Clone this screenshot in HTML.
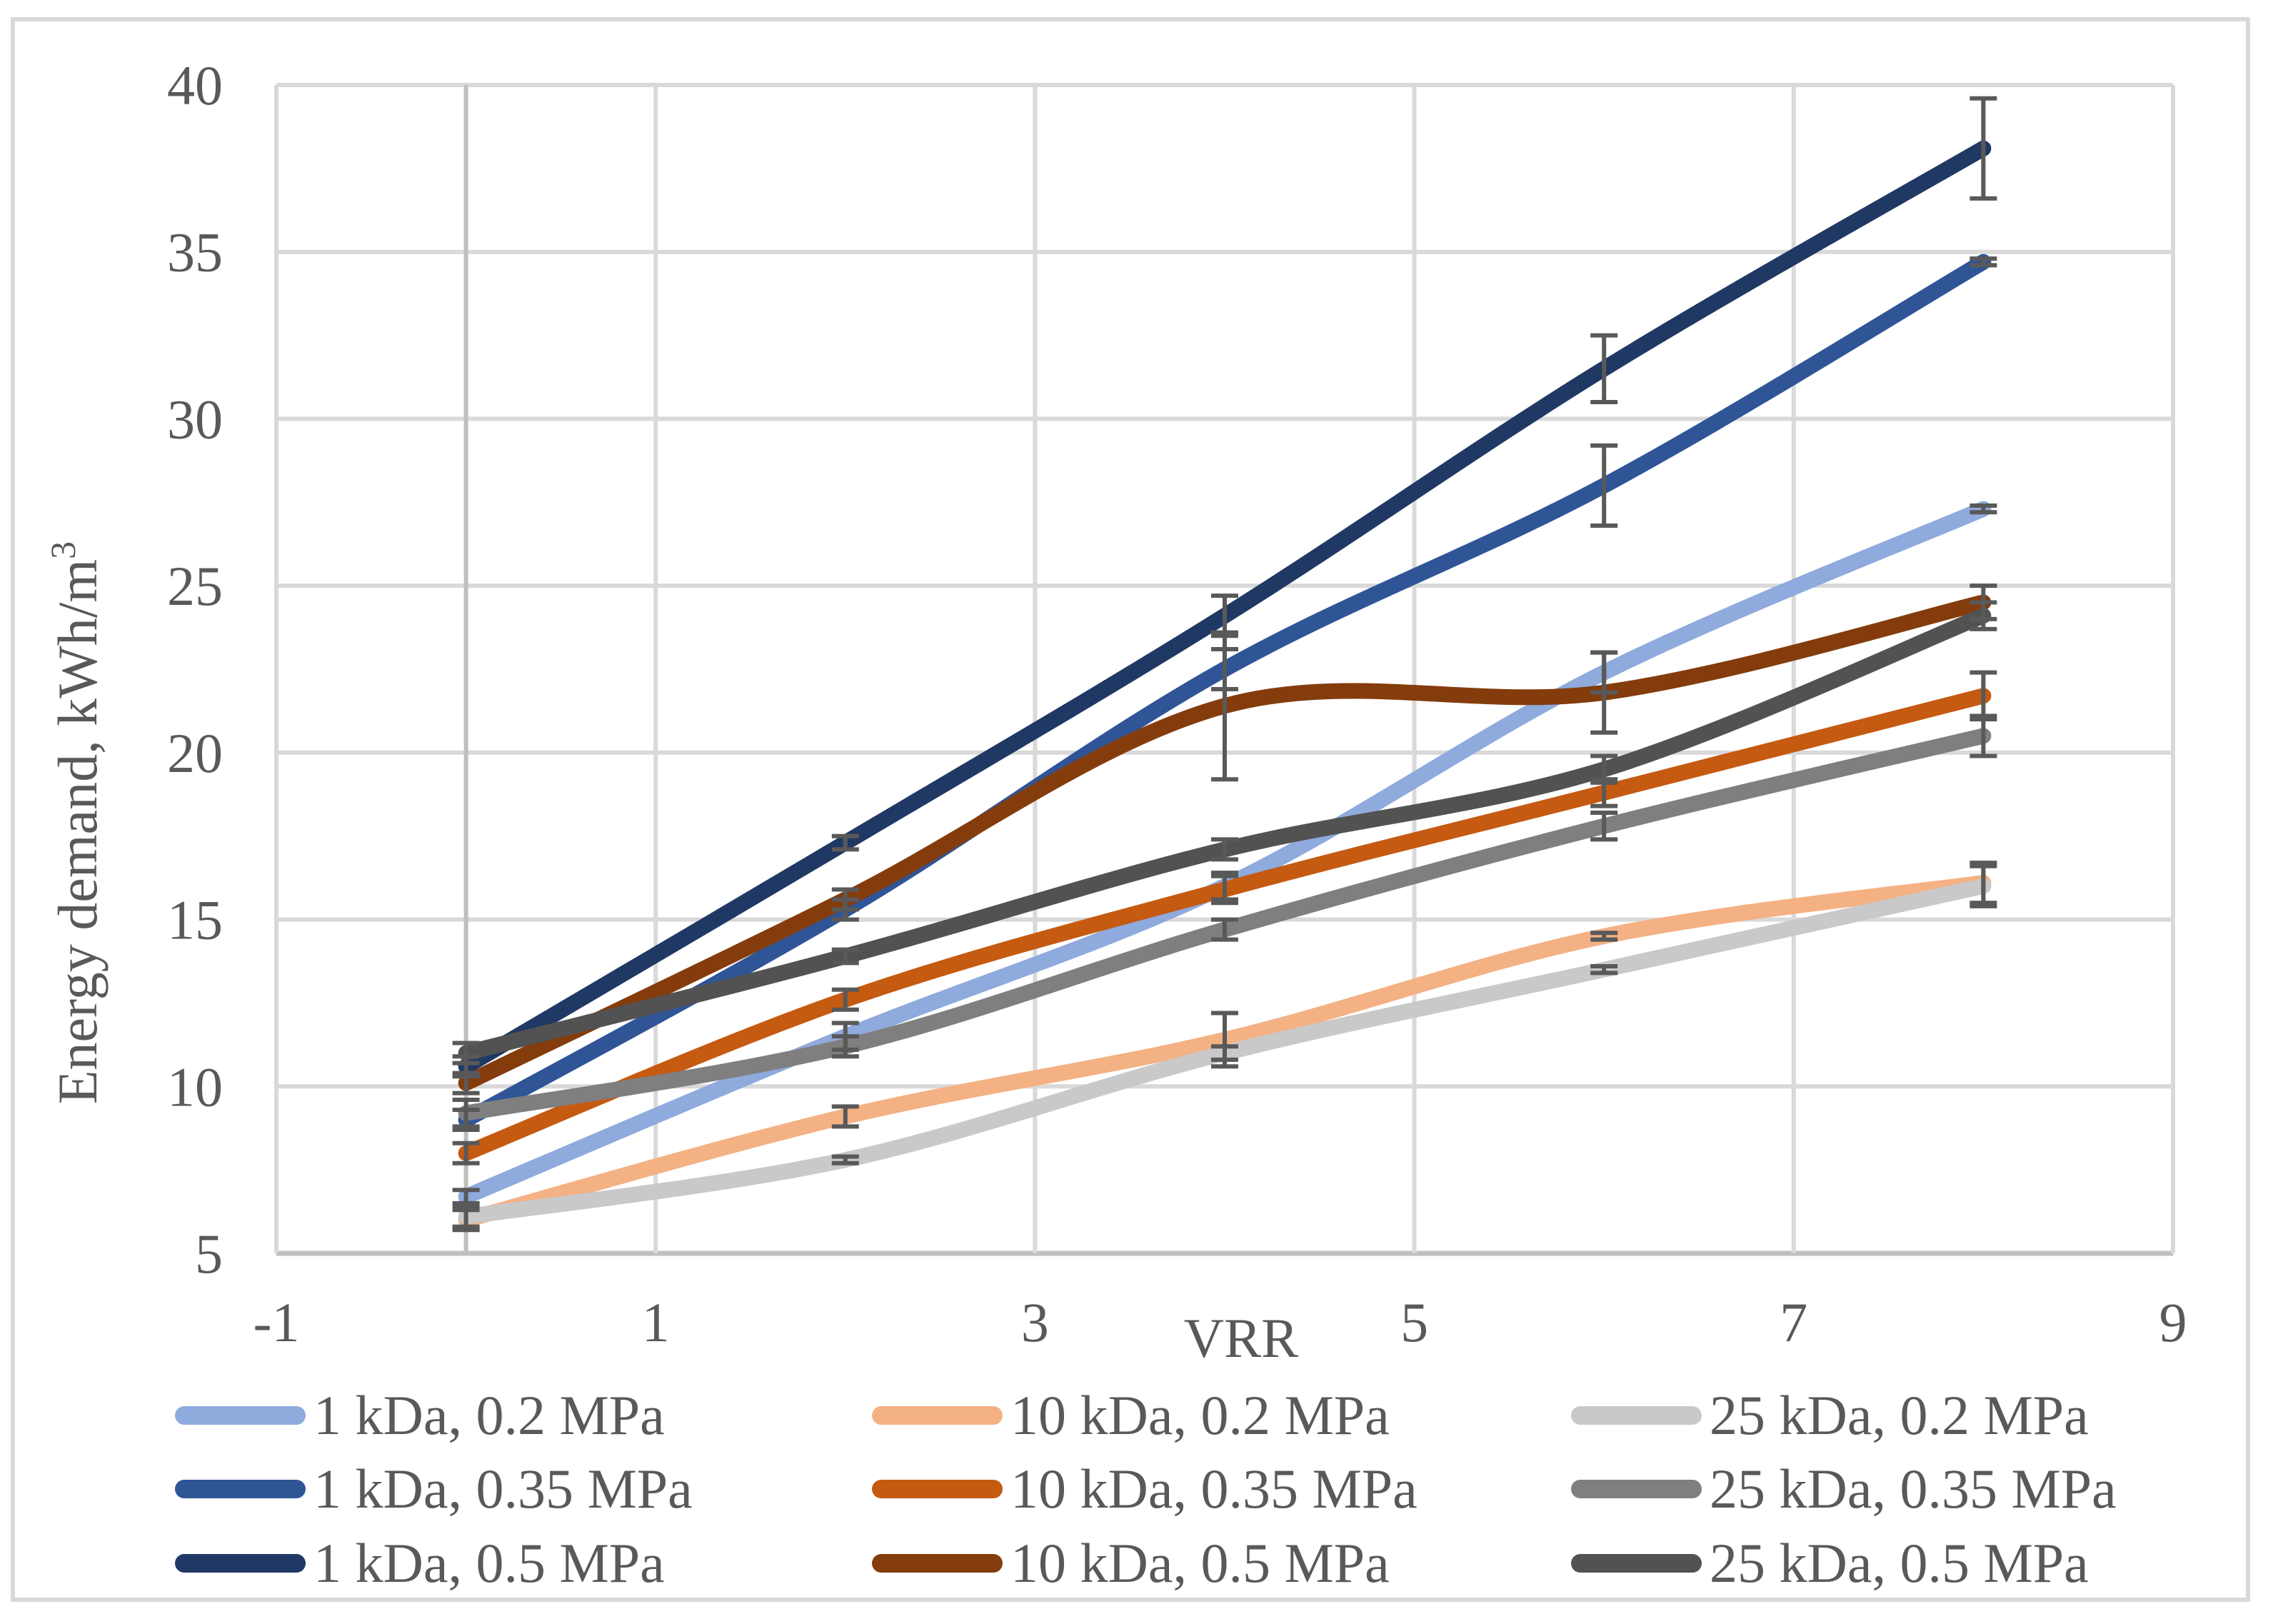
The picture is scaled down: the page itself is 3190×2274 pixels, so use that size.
<!DOCTYPE html>
<html><head><meta charset="utf-8"><style>
html,body{margin:0;padding:0;background:#fff;}
svg{display:block;font-family:"Liberation Serif",serif;}
</style></head><body>
<svg width="3190" height="2274" viewBox="0 0 3190 2274">
<rect x="18" y="27" width="3130" height="2213" fill="#fff" stroke="#d9d9d9" stroke-width="6"/>
<g id="grid"></g>
<g id="series"></g>
<g id="errs"></g>
<g id="axes"></g>
<text x="135" y="1152" transform="rotate(-90 135 1152)" text-anchor="middle" font-size="78" fill="#595959">Energy demand, kWh/m<tspan font-size="50" dy="-30">3</tspan></text>
<text x="1738" y="1900" text-anchor="middle" font-size="78" fill="#595959">VRR</text>
<g id="legend"></g>
</svg>
<script>
const xVals = [0, 2, 4, 6, 8];
const seriesNames = ["1 kDa, 0.2 MPa","1 kDa, 0.35 MPa","1 kDa, 0.5 MPa","10 kDa, 0.2 MPa","10 kDa, 0.35 MPa","10 kDa, 0.5 MPa","25 kDa, 0.2 MPa","25 kDa, 0.35 MPa","25 kDa, 0.5 MPa"];
const seriesColors = ["#8faadc","#2f5597","#203864","#f4b183","#c55a11","#843c0c","#c9c9c9","#7f7f7f","#525252"];
const s1k02 = [6.7, 11.5, 16, 22.4, 27.3];
const s1k035 = [9, 15.3, 22.5, 28, 34.7];
const s1k05 = [10.6, 17.3, 24.1, 31.5, 38.1];
const s10k02 = [6, 9.1, 11.4, 14.5, 16.1];
const s10k035 = [8, 12.6, 15.9, 18.8, 21.7];
const s10k05 = [10.1, 15.6, 21.4, 21.8, 24.5];
const s25k02 = [6.1, 7.8, 11, 13.5, 16];
const s25k035 = [9.2, 11.2, 14.7, 17.8, 20.5];
const s25k05 = [11, 13.9, 17.1, 19.5, 24.1];
const e1k02 = [0.2, 0.4, 0.4, 0.6, 0.1];
const e1k035 = [0.3, 0.3, 0.6, 1.2, 0.1];
const e1k05 = [0.3, 0.2, 0.6, 1.0, 1.5];
const e10k02 = [0.3, 0.3, 0.8, 0.1, 0.6];
const e10k035 = [0.3, 0.3, 0.4, 0.4, 0.7];
const e10k05 = [0.3, 0.3, 2.2, 1.2, 0.5];
const e25k02 = [0.3, 0.1, 0.2, 0.1, 0.6];
const e25k035 = [0.4, 0.3, 0.3, 0.4, 0.6];
const e25k05 = [0.3, 0.2, 0.3, 0.4, 0.4];
const xTicks = [-1, 1, 3, 5, 7, 9];
const yTicks = [5, 10, 15, 20, 25, 30, 35, 40];

const allSeries = [s1k02,s1k035,s1k05,s10k02,s10k035,s10k05,s25k02,s25k035,s25k05];
const allErr = [e1k02,e1k035,e1k05,e10k02,e10k035,e10k05,e25k02,e25k035,e25k05];
const NS = "http://www.w3.org/2000/svg";
const L = 387, R = 3043, T = 119, B = 1755;
const xMin = -1, xMax = 9, yMin = 5, yMax = 40;
const X = v => L + (v - xMin) / (xMax - xMin) * (R - L);
const Y = v => B - (v - yMin) / (yMax - yMin) * (B - T);
function mk(tag, attrs, parent){const e=document.createElementNS(NS,tag);for(const k in attrs)e.setAttribute(k,attrs[k]);parent.appendChild(e);return e;}
const grid = document.getElementById('grid'), axes = document.getElementById('axes');
yTicks.forEach(t=>{
  const l = mk('line',{x1:L,x2:R,y1:Y(t),y2:Y(t),stroke:t===yMin?'#bfbfbf':'#d9d9d9','stroke-width':t===yMin?7:6},grid);
  
  
  const tx = mk('text',{x:312,y:Y(t)+27,'text-anchor':'end','font-size':78,fill:'#595959'},axes);
  tx.textContent = t;
  
  
});
xTicks.forEach(t=>{
  const l = mk('line',{x1:X(t),x2:X(t),y1:T,y2:B,stroke:'#d9d9d9','stroke-width':6},grid);
  
  
  const tx = mk('text',{x:X(t),y:1878,'text-anchor':'middle','font-size':78,fill:'#595959'},axes);
  tx.textContent = t;
  
  
});
const ax = mk('line',{x1:X(0),x2:X(0),y1:T,y2:B,stroke:'#bfbfbf','stroke-width':6},grid);



function smoothPath(pts){
  let d = `M${pts[0][0]},${pts[0][1]}`;
  for(let i=0;i<pts.length-1;i++){
    const p0=pts[Math.max(0,i-1)],p1=pts[i],p2=pts[i+1],p3=pts[Math.min(pts.length-1,i+2)];
    const c1=[p1[0]+(p2[0]-p0[0])/6,p1[1]+(p2[1]-p0[1])/6];
    const c2=[p2[0]-(p3[0]-p1[0])/6,p2[1]-(p3[1]-p1[1])/6];
    d+=` C${c1[0]},${c1[1]} ${c2[0]},${c2[1]} ${p2[0]},${p2[1]}`;
  }
  return d;
}
const sg = document.getElementById('series'), eg = document.getElementById('errs');
allSeries.forEach((s,i)=>{
  const pts = s.map((v,j)=>[X(xVals[j]),Y(v)]);
  const p = mk('path',{d:smoothPath(pts),fill:'none',stroke:seriesColors[i],'stroke-width':22,'stroke-linecap':'round','stroke-linejoin':'round'},sg);
  
  
  s.forEach((v,j)=>{
    const e = allErr[i][j], cx = X(xVals[j]);
    const g = mk('g',{stroke:'#595959','stroke-width':6,fill:'none'},eg);
    
    
    mk('line',{x1:cx,x2:cx,y1:Y(v+e),y2:Y(v-e)},g);
    mk('line',{x1:cx-19,x2:cx+19,y1:Y(v+e),y2:Y(v+e)},g);
    mk('line',{x1:cx-19,x2:cx+19,y1:Y(v-e),y2:Y(v-e)},g);
  });
});
const lg = document.getElementById('legend');
const colX = [245, 1221, 2200], rowY = [1982, 2085, 2189];
seriesNames.forEach((n,i)=>{
  const c = Math.floor(i/3), r = i%3;
  const g = mk('g',{},lg);
  
  
  mk('line',{x1:colX[c]+13,x2:colX[c]+170,y1:rowY[r],y2:rowY[r],stroke:seriesColors[i],'stroke-width':26,'stroke-linecap':'round'},g);
  const t = mk('text',{x:colX[c]+194,y:rowY[r]+26,'font-size':78,fill:'#595959'},g);
  t.textContent = n;
});
</script>
</body></html>
